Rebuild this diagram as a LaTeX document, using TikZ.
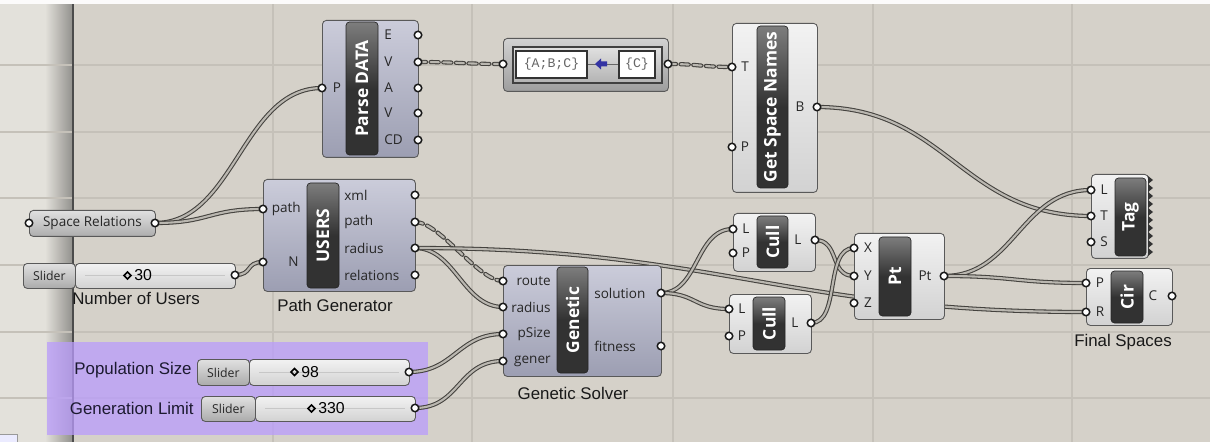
\documentclass[tikz,border=0pt]{standalone}
\usepackage{fontspec}
\setmainfont{Liberation Sans}
\newfontfamily\uifont{Open Sans}
\newfontfamily\codefont{Liberation Mono}

\definecolor{canvas}{RGB}{213,209,201}
\definecolor{gridln}{RGB}{197,193,185}
\definecolor{leftbg}{RGB}{227,225,219}
\definecolor{wirecol}{RGB}{68,66,62}
\definecolor{wirecore}{RGB}{186,183,176}
\definecolor{clusTop}{RGB}{203,204,218}
\definecolor{clusBot}{RGB}{156,158,178}
\definecolor{plainTop}{RGB}{242,242,242}
\definecolor{plainBot}{RGB}{210,210,210}
\definecolor{barTop}{RGB}{125,125,125}
\definecolor{barBot}{RGB}{50,50,50}
\definecolor{groupcol}{RGB}{186,156,252}
\definecolor{labelcol}{RGB}{28,26,48}

\pgfdeclarelayer{bg}
\pgfdeclarelayer{wires}
\pgfsetlayers{bg,wires,main}

\tikzset{
  sz/.style 2 args={minimum width=#1*0.02cm, minimum height=#2*0.02cm},
  clus/.style={draw=black!65, line width=0.5pt, rounded corners=2.2pt,
    top color=clusTop, bottom color=clusBot, inner sep=0pt, anchor=north west},
  plain/.style={clus, top color=plainTop, bottom color=plainBot},
  bar/.style={draw=black!85, line width=0.4pt, rounded corners=2pt,
    top color=barTop, bottom color=barBot, middle color=barBot, inner sep=0pt,
    text=white, font=\uifont\bfseries\fontsize{9.9}{10}\selectfont},
  port/.style={circle, draw=black!90, fill=white, line width=0.85pt,
    inner sep=0pt, minimum size=0.15cm},
  lbl/.style={inner sep=0pt, text=black!85, font=\uifont\fontsize{7.7}{8}\selectfont},
  caption/.style={inner sep=0pt, text=labelcol, font=\fontsize{9.6}{11}\selectfont},
  wire/.style={draw=wirecol, line width=0.6pt, double=wirecore, double distance=1.2pt},
  dwire/.style={wire, line cap=round, dash pattern=on 4.6pt off 2.6pt}
}

\begin{document}
\begin{tikzpicture}[x=0.02cm, y=-0.02cm]
  \useasboundingbox (0,0) rectangle (1210,442);

  % canvas
  \begin{pgfonlayer}{bg}
    \fill[canvas] (0,0) rectangle (1210,442);
    \fill[leftbg] (0,0) rectangle (73,442);
    \shade[left color=leftbg, right color=black!35!leftbg] (45,0) rectangle (72,442);
    \draw[gridln, line width=0.6pt] (0,65) -- (1210,65) (0,132) -- (1210,132)
      (0,198) -- (1210,198) (0,265) -- (1210,265) (0,332) -- (1210,332)
      (0,398) -- (1210,398);
    \draw[gridln, line width=0.6pt] (273,0) -- (273,442) (472,0) -- (472,442)
      (673,0) -- (673,442) (873,0) -- (873,442) (1072,0) -- (1072,442);
    \draw[black!70, line width=1pt] (73,0) -- (73,442);
    \fill[white!92!canvas] (0,0) rectangle (1210,4);
    \fill[blue!8!white, draw=black!40] (-2,434) rectangle (17,444);
    \fill[groupcol, opacity=0.75] (47,342) rectangle (428,435);
  \end{pgfonlayer}

  % Parse DATA
  \node[clus, sz={96}{137}] (pd) at (322,20) {};
  \node[bar, sz={32}{133}] (pdbar) at (362,88.5) {\rotatebox{90}{Parse DATA}};
  \node[port] (pdP) at (322,88) {};
  \node[lbl] (pdPl) at (337,88) {P};
  \node[port] (pdE) at (418,35) {};
  \node[port] (pdV) at (418,62) {};
  \node[port] (pdA) at (418,88) {};
  \node[port] (pdW) at (418,113) {};
  \node[port] (pdCD) at (418,140) {};
  \node[lbl, anchor=west] (pdEl) at (384,35) {E};
  \node[lbl, anchor=west] (pdVl) at (384,62) {V};
  \node[lbl, anchor=west] (pdAl) at (384,88) {A};
  \node[lbl, anchor=west] (pdWl) at (384,113) {V};
  \node[lbl, anchor=west] (pdCDl) at (384,140) {CD};

  % text split
  \node[clus, sz={165}{53}, top color=black!18, bottom color=black!38] (li) at (503,38) {};
  \draw[black!75, line width=0.8pt, top color=black!12, bottom color=black!30] (513,47) rectangle (662,83);
  \draw[black!60, line width=0.5pt] (587,64) -- (619,64);
  \node[draw=black!80, fill=white, line width=0.7pt, inner sep=0pt, sz={71}{27},
    text=black!60, font=\codefont\fontsize{7.5}{8}\selectfont] (liA) at (551.5,64.5) {\{A;B;C\}};
  \node[draw=black!80, fill=white, line width=0.7pt, inner sep=0pt, sz={36}{27},
    text=black!60, font=\codefont\fontsize{7.5}{8}\selectfont] (liC) at (637,64.5) {\{C\}};
  \fill[blue!55!black!80!white] (595,64) -- (601,58.5) -- (601,61.5) -- (607,61.5) -- (607,66.5) -- (601,66.5) -- (601,69.5) -- cycle;
  \node[port] (liIn) at (503,64) {};
  \node[port] (liOut) at (668,64) {};

  % Get Space Names
  \node[plain, sz={85}{169}] (gs) at (732,23) {};
  \node[bar, sz={31}{162}] (gsbar) at (772.5,107) {\rotatebox{90}{Get Space Names}};
  \node[port] (gsT) at (732,67) {};
  \node[port] (gsP) at (732,147) {};
  \node[port] (gsB) at (817,107) {};
  \node[lbl] (gsTl) at (745,67) {T};
  \node[lbl] (gsPl) at (745,147) {P};
  \node[lbl] (gsBl) at (800,107) {B};

  % Space Relations
  \node[clus, sz={126}{26}, top color=black!12, bottom color=black!32, text=black!85,
    font=\uifont\fontsize{7.7}{8}\selectfont] (sr) at (29,210) {Space Relations};
  \node[port] (srIn) at (29,223) {};
  \node[port] (srOut) at (155,223) {};

  % number of users
  \node[clus, sz={52}{25}, top color=black!12, bottom color=black!33, text=black!85,
    font=\uifont\fontsize{7}{8}\selectfont] (s30) at (23,263) {Slider};
  \node[plain, sz={160}{25}] (s30v) at (75,263) {};
  \draw[black!22, line width=0.4pt] (85,275.5) -- (225,275.5);
  \draw[black, line width=1pt] (124,275.5) -- (127.5,272) -- (131,275.5) -- (127.5,279) -- cycle;
  \node[inner sep=0pt, anchor=west, font=\fontsize{9}{10}\selectfont] (s30n) at (134,275.5) {30};
  \node[port] (s30Out) at (235,275) {};
  \node[caption, text=black!90] (s30cap) at (136,298) {Number of Users};

  % USERS
  \node[clus, sz={152}{112}] (us) at (263,179) {};
  \node[bar, sz={32}{105}] (usbar) at (323,235.5) {\rotatebox{90}{USERS}};
  \node[port] (usPath) at (263,209) {};
  \node[port] (usN) at (263,262) {};
  \node[lbl, anchor=east] (usPathl) at (301,209) {path};
  \node[lbl, anchor=east] (usNl) at (299,262) {N};
  \node[port] (usXml) at (415,195) {};
  \node[port] (usPathOut) at (415,222) {};
  \node[port] (usRadius) at (415,248) {};
  \node[port] (usRel) at (415,275) {};
  \node[lbl, anchor=west] (usXmll) at (344,195) {xml};
  \node[lbl, anchor=west] (usPathOutl) at (344,222) {path};
  \node[lbl, anchor=west] (usRadiusl) at (344,248) {radius};
  \node[lbl, anchor=west] (usRell) at (344,275) {relations};
  \node[caption, text=black!90] (uscap) at (335,305) {Path Generator};

  % population size
  \node[caption, anchor=east] (s98cap) at (192,370) {Population Size};
  \node[clus, sz={52}{26}, top color=black!12, bottom color=black!33, text=black!85,
    font=\uifont\fontsize{7}{8}\selectfont] (s98) at (197,359) {Slider};
  \node[plain, sz={160}{26}] (s98v) at (249,359) {};
  \draw[black!22, line width=0.4pt] (259,372) -- (399,372);
  \draw[black, line width=1pt] (291,372) -- (294.5,368.5) -- (298,372) -- (294.5,375.5) -- cycle;
  \node[inner sep=0pt, anchor=west, font=\fontsize{9}{10}\selectfont] (s98n) at (301,372) {98};
  \node[port] (s98Out) at (409,372) {};

  % generation limit
  \node[caption, anchor=east] (s330cap) at (194,408) {Generation Limit};
  \node[clus, sz={54}{25}, top color=black!12, bottom color=black!33, text=black!85,
    font=\uifont\fontsize{7}{8}\selectfont] (s330) at (201,396) {Slider};
  \node[plain, sz={160}{25}] (s330v) at (255,396) {};
  \draw[black!22, line width=0.4pt] (265,408.5) -- (405,408.5);
  \draw[black, line width=1pt] (308,408.5) -- (311.5,405) -- (315,408.5) -- (311.5,412) -- cycle;
  \node[inner sep=0pt, anchor=west, font=\fontsize{9}{10}\selectfont] (s330n) at (318,408.5) {330};
  \node[port] (s330Out) at (415,408) {};

  % Genetic
  \node[clus, sz={158}{111}] (ge) at (503,265) {};
  \node[bar, sz={31}{106}] (gebar) at (572.5,320) {\rotatebox{90}{Genetic}};
  \node[port] (geRoute) at (503,281) {};
  \node[port] (geRadius) at (503,307) {};
  \node[port] (gePSize) at (503,334) {};
  \node[port] (geGener) at (503,361) {};
  \node[lbl, anchor=east] (geRoutel) at (551,281) {route};
  \node[lbl, anchor=east] (geRadiusl) at (551,307) {radius};
  \node[lbl, anchor=east] (gePSizel) at (551,334) {pSize};
  \node[lbl, anchor=east] (geGenerl) at (551,361) {gener};
  \node[port] (geSol) at (661,293) {};
  \node[port] (geFit) at (661,346) {};
  \node[lbl, anchor=west] (geSoll) at (594,293) {solution};
  \node[lbl, anchor=west] (geFitl) at (594,346) {fitness};
  \node[caption, text=black!90] (gecap) at (573,393) {Genetic Solver};

  % Cull (top)
  \node[plain, sz={82}{58}] (cuA) at (733,213) {};
  \node[bar, sz={31}{52}] (cuAbar) at (772.5,242) {\rotatebox{90}{Cull}};
  \node[port] (cuAL) at (733,229) {};
  \node[port] (cuAP) at (733,253) {};
  \node[port] (cuAOut) at (815,240) {};
  \node[lbl] (cuALl) at (746,229) {L};
  \node[lbl] (cuAPl) at (746,253) {P};
  \node[lbl] (cuAOutl) at (798,240) {L};

  % Cull (bottom)
  \node[plain, sz={82}{59}] (cuB) at (729,294) {};
  \node[bar, sz={32}{53}] (cuBbar) at (769,323.5) {\rotatebox{90}{Cull}};
  \node[port] (cuBL) at (729,309) {};
  \node[port] (cuBP) at (729,336) {};
  \node[port] (cuBOut) at (811,323) {};
  \node[lbl] (cuBLl) at (742,309) {L};
  \node[lbl] (cuBPl) at (742,336) {P};
  \node[lbl] (cuBOutl) at (795,323) {L};

  % Pt
  \node[plain, sz={90}{86}] (pt) at (854,233) {};
  \node[bar, sz={32}{79}] (ptbar) at (895,276.5) {\rotatebox{90}{Pt}};
  \node[port] (ptX) at (854,248) {};
  \node[port] (ptY) at (854,276) {};
  \node[port] (ptZ) at (854,303) {};
  \node[port] (ptOut) at (944,276) {};
  \node[lbl] (ptXl) at (868,248) {X};
  \node[lbl] (ptYl) at (868,276) {Y};
  \node[lbl] (ptZl) at (868,303) {Z};
  \node[lbl] (ptOutl) at (925,276) {Pt};

  % Tag
  \node[plain, sz={57}{84}] (tg) at (1091,174) {};
  \node[bar, sz={31}{78}] (tgbar) at (1130.5,217) {\rotatebox{90}{Tag}};
  \foreach \k in {0,...,9}
    \fill[black!80] (1148,176+8*\k) -- (1153,180+8*\k) -- (1148,184+8*\k) -- cycle;
  \node[port] (tgL) at (1091,190) {};
  \node[port] (tgT) at (1091,216) {};
  \node[port] (tgS) at (1091,242) {};
  \node[lbl] (tgLl) at (1104,190) {L};
  \node[lbl] (tgTl) at (1104,216) {T};
  \node[lbl] (tgSl) at (1104,242) {S};

  % Cir
  \node[plain, sz={86}{57}] (ci) at (1086,268) {};
  \node[bar, sz={32}{52}] (cibar) at (1127,297) {\rotatebox{90}{Cir}};
  \node[port] (ciP) at (1086,283) {};
  \node[port] (ciR) at (1086,312) {};
  \node[port] (ciC) at (1172,296) {};
  \node[lbl] (ciPl) at (1100,283) {P};
  \node[lbl] (ciRl) at (1100,312) {R};
  \node[lbl] (ciCl) at (1153,296) {C};
  \node[caption, text=black!90] (cicap) at (1123,342) {Final Spaces};

  % wires
  \begin{pgfonlayer}{wires}
    \draw[wire] (srOut.center) .. controls +(80,0) and +(-80,0) .. (pdP.center);
    \draw[wire] (srOut.center) .. controls +(55,0) and +(-55,0) .. (usPath.center);
    \draw[wire] (s30Out.center) .. controls +(18,0) and +(-18,0) .. (usN.center);
    \draw[dwire] (pdV.center) .. controls +(40,0) and +(-40,0) .. (liIn.center);
    \draw[dwire] (liOut.center) .. controls +(30,0) and +(-30,0) .. (gsT.center);
    \draw[dwire] (usPathOut.center) .. controls +(25,0) and +(-25,0) .. (geRoute.center);
    \draw[wire] (usRadius.center) .. controls +(40,0) and +(-40,0) .. (geRadius.center);
    \draw[wire] (usRadius.center) .. controls +(300,0) and +(-300,0) .. (ciR.center);
    \draw[wire] (s98Out.center) .. controls +(45,0) and +(-45,0) .. (gePSize.center);
    \draw[wire] (s330Out.center) .. controls +(45,0) and +(-45,0) .. (geGener.center);
    \draw[wire] (geSol.center) .. controls +(38,0) and +(-38,0) .. (cuAL.center);
    \draw[wire] (geSol.center) .. controls +(35,0) and +(-35,0) .. (cuBL.center);
    \draw[wire] (cuAOut.center) .. controls +(25,0) and +(-25,0) .. (ptY.center);
    \draw[wire] (cuBOut.center) .. controls +(30,0) and +(-30,0) .. (ptX.center);
    \draw[wire] (gsB.center) .. controls +(130,0) and +(-130,0) .. (tgT.center);
    \draw[wire] (ptOut.center) .. controls +(70,0) and +(-70,0) .. (tgL.center);
    \draw[wire] (ptOut.center) .. controls +(70,0) and +(-70,0) .. (ciP.center);
  \end{pgfonlayer}
\end{tikzpicture}
\end{document}
